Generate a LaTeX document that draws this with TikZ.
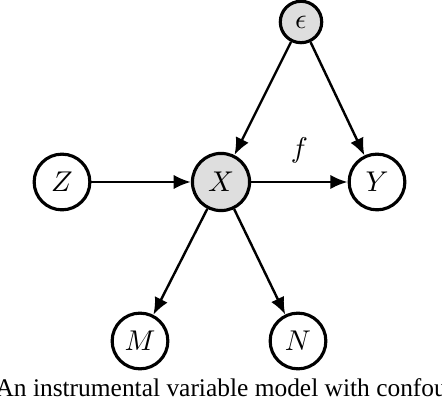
\documentclass[tikz,border=0pt]{standalone}
\usepackage{amsmath}
\usepackage{fontspec}
\usepackage{tikz}
\usetikzlibrary{arrows.meta,shapes}
\newfontfamily\capfont{Liberation Serif}
\tikzstyle{vertex}=[circle,draw,line width=1.1pt,minimum size=19.5pt,inner sep=0pt]
\tikzstyle{shaded}=[vertex,fill=black!13]
\tikzstyle{edge} = [draw,line width=0.85pt,-{Latex[length=6pt,width=5pt]}]

\begin{document}
\begin{tikzpicture}[x=0.35pt,y=0.35pt]
    \useasboundingbox (0,0) rectangle (442,404);
    % Draw the instrumental variable graph
    % First we draw the vertices
    \node[shaded,minimum size=14.5pt] (eps) at (301,382) {$\epsilon$};
    \node[shaded,minimum size=20pt] (X) at (221,222) {$X$};
    \foreach \pos/\name in {{(62,222)/Z}, {(377,222)/Y}, {(140,63)/M}, {(298,63)/N}}
        \node[vertex] (\name) at \pos {$\name$};
    % Connect vertices with edges
    \foreach \source/ \dest in {eps/X, eps/Y, Z/X, X/M, X/N}
        \path[edge] (\source) -- (\dest) ;
    \path[edge] (X) -- node[above=3pt] {$f$} (Y);
    % caption (cut off at the page edge)
    \node[anchor=base west,inner sep=0pt,font=\capfont\fontsize{8.9}{10}\selectfont] (cap) at (-5,7) {An instrumental variable model with confounding};
\end{tikzpicture}
\end{document}
